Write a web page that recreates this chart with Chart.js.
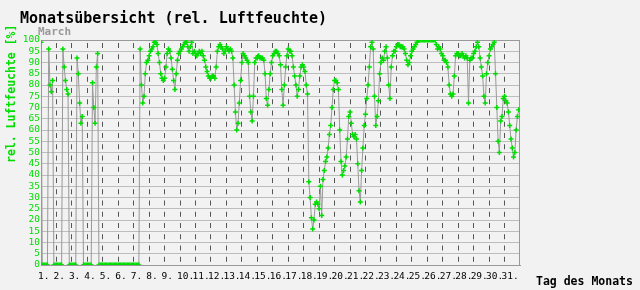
<!DOCTYPE html>
<html>
<head>
<meta charset="utf-8">
<script src="https://cdn.jsdelivr.net/npm/chart.js@4.4.0/dist/chart.umd.min.js"></script>
<style>
  html, body { margin: 0; padding: 0; background: #f2f2f2; }
</style>
</head>
<body>
<canvas id="myChart" width="640" height="290"></canvas>
<script>
// Messwerte alle 2 Stunden (12 pro Tag), 0 = keine Daten
const pointsPerDay = 12;

const week1 = [
  99, 0, 0, 0, 0, 0, 96, 80, 77, 82, 0, 0,        // 1.
  0, 0, 0, 0, 0, 96, 88, 82, 78, 76, 0, 0,        // 2.
  0, 0, 0, 0, 92, 85, 72, 63, 66, 0, 0, 0,        // 3.
  0, 0, 0, 0, 81, 70, 63, 88, 94, 0, 0, 0,        // 4.
  0, 0, 0, 0, 0, 0, 0, 0, 0, 0, 0, 0,             // 5.
  0, 0, 0, 0, 0, 0, 0, 0, 0, 0, 0, 0,             // 6.
  0, 0, 0, 0, 0, 96, 80, 72, 75, 85, 90, 91       // 7.
];
const week2 = [
  93, 95, 96, 97, 99, 99, 98, 94, 90, 85, 83, 82, // 8.
  83, 88, 94, 96, 95, 92, 87, 82, 78, 85, 91, 94, // 9.
  95, 96, 97, 98, 99, 99, 97, 95, 97, 99, 94, 95, // 10.
  94, 93, 94, 95, 94, 95, 93, 91, 88, 86, 84, 83, // 11.
  83, 84, 84, 83, 88, 95, 97, 98, 97, 96, 94, 95, // 12.
  97, 96, 95, 96, 95, 92, 80, 68, 60, 63, 72, 82, // 13.
  90, 94, 93, 92, 91, 90, 75, 68, 64, 75, 90, 92  // 14.
];
const week3 = [
  92, 93, 92, 92, 92, 91, 85, 74, 71, 78, 85, 90, // 15.
  93, 94, 95, 95, 94, 93, 89, 78, 71, 80, 88, 93, // 16.
  96, 95, 95, 93, 88, 84, 80, 75, 78, 84, 88, 89, // 17.
  88, 86, 80, 76, 37, 30, 21, 16, 20, 27, 28, 27, // 18.
  25, 35, 22, 38, 42, 46, 48, 52, 58, 62, 70, 78, // 19.
  82, 82, 81, 78, 60, 46, 40, 42, 44, 48, 56, 66, // 20.
  68, 63, 58, 57, 58, 56, 45, 33, 28, 42, 52, 62  // 21.
];
const week4 = [
  67, 74, 80, 88, 97, 99, 96, 75, 62, 66, 73, 85, // 22.
  90, 92, 91, 95, 97, 92, 80, 74, 88, 93, 95, 95, // 23.
  97, 98, 98, 97, 97, 97, 96, 94, 91, 89, 90, 93, // 24.
  95, 96, 97, 98, 99, 100, 100, 100, 100, 100, 100, 100, // 25.
  100, 100, 100, 100, 100, 100, 100, 98, 96, 97, 96, 94, // 26.
  93, 91, 91, 90, 88, 80, 76, 75, 76, 84, 93, 94, // 27.
  94, 93, 93, 94, 93, 92, 93, 92, 72, 91, 92, 92  // 28.
];
const week5 = [
  94, 95, 97, 99, 97, 92, 88, 84, 75, 72, 85, 90, // 29.
  93, 96, 97, 98, 99, 85, 70, 55, 50, 64, 66, 74, // 30.
  75, 73, 72, 68, 62, 56, 52, 48, 50, 60, 66, 69  // 31.
];

const dayLabels = ['1.', '2.', '3.', '4.', '5.', '6.', '7.', '8.', '9.', '10.',
  '11.', '12.', '13.', '14.', '15.', '16.', '17.', '18.', '19.', '20.',
  '21.', '22.', '23.', '24.', '25.', '26.', '27.', '28.', '29.', '30.', '31.'];

const humidity = [].concat(week1, week2, week3, week4, week5);
const points = humidity.map((v, i) => ({ x: 1 + i / pointsPerDay, y: v }));

const green = '#00dd00';
const mono = 'DejaVu Sans Mono';

// Rahmen und Beschriftungen
const frameAndText = {
  id: 'frameAndText',
  beforeDatasetsDraw(chart) {
    const { ctx, chartArea: a } = chart;
    ctx.save();
    ctx.strokeStyle = '#999';
    ctx.lineWidth = 1;
    ctx.strokeRect(a.left + 0.5, a.top + 0.5, a.right - a.left - 1, a.bottom - a.top);
    ctx.restore();
  },
  afterDraw(chart) {
    const ctx = chart.ctx;
    ctx.save();
    ctx.textAlign = 'left';
    ctx.textBaseline = 'alphabetic';
    ctx.fillStyle = '#000';
    ctx.font = 'bold 15px "' + mono + '"';
    ctx.fillText('Monatsübersicht (rel. Luftfeuchte)', 20, 23);
    ctx.fillStyle = '#999';
    ctx.font = 'bold 11px "' + mono + '"';
    ctx.fillText('March', 38, 35);
    ctx.fillStyle = '#000';
    ctx.font = 'bold 11.5px "' + mono + '"';
    ctx.fillText('Tag des Monats', 536, 285);
    ctx.translate(15, 163);
    ctx.rotate(-Math.PI / 2);
    ctx.fillStyle = green;
    ctx.fillText('rel. Luftfeuchte [%]', 0, 0);
    ctx.restore();
  }
};

const ctx = document.getElementById('myChart').getContext('2d');

const myChart = new Chart(ctx, {
  type: 'line',
  data: {
    datasets: [{
      data: points,
      borderColor: '#999',
      borderWidth: 1,
      tension: 0,
      pointStyle: 'cross',
      pointRadius: 2.5,
      pointBorderColor: green,
      pointBackgroundColor: green,
      pointBorderWidth: 1.5
    }]
  },
  options: {
    responsive: false,
    animation: false,
    events: [],
    layout: { padding: { top: 40, right: 120, left: 0, bottom: 0 } },
    plugins: { legend: { display: false }, tooltip: { enabled: false }, title: { display: false } },
    scales: {
      x: {
        type: 'linear',
        min: 1,
        max: 32,
        afterFit: s => { s.height = 25; },
        ticks: {
          stepSize: 1,
          autoSkip: false,
          maxRotation: 0,
          minRotation: 0,
          align: 'start',
          labelOffset: -3,
          padding: 6,
          color: '#000',
          font: { family: mono, size: 9.5 },
          callback: v => dayLabels[v - 1] || ''
        },
        grid: {
          drawTicks: false,
          color: c => (c.tick && (c.tick.value === 1 || c.tick.value === 32)) ? 'rgba(0,0,0,0)' : '#555'
        },
        border: { display: true, color: '#999', dash: [5, 6.25], dashOffset: 8.25 }
      },
      y: {
        min: 0,
        max: 100,
        afterFit: s => { s.width = 41; },
        ticks: {
          stepSize: 5,
          autoSkip: false,
          padding: 1,
          color: green,
          font: { family: mono, size: 9.5 }
        },
        grid: { drawTicks: false, color: '#bdbdbd' },
        border: { display: true, color: '#999' }
      }
    }
  },
  plugins: [frameAndText]
});
</script>
</body>
</html>
